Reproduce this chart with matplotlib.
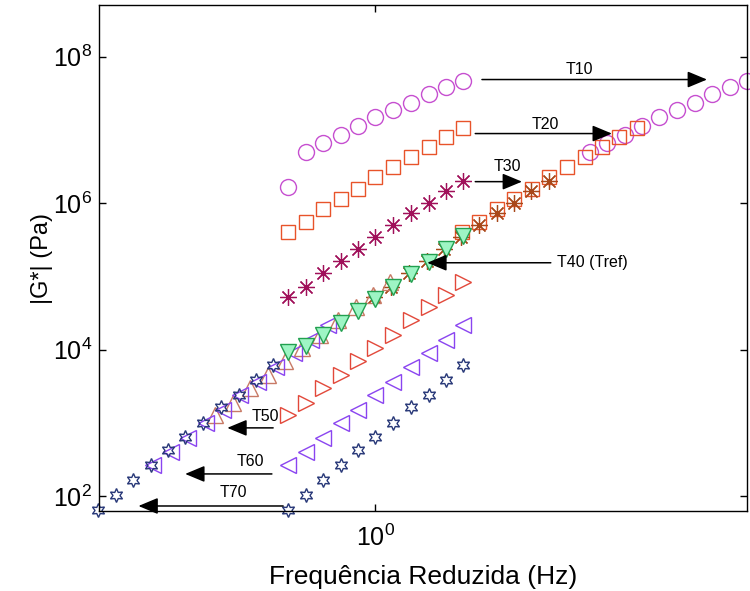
import numpy as np
import matplotlib
matplotlib.use("Agg")
import matplotlib.pyplot as plt
from matplotlib.ticker import FixedLocator, LogFormatterMathtext, NullLocator

plt.rcParams['font.family'] = ['Liberation Sans', 'DejaVu Sans']
plt.rcParams['mathtext.fontset'] = 'custom'
plt.rcParams['mathtext.rm'] = 'Liberation Sans'

# measured frequencies (Hz), same for every temperature
freq = [0.606, 0.670, 0.741, 0.820, 0.907, 1.00, 1.11, 1.23, 1.36, 1.50, 1.66]

# |G*| (Pa) for each test temperature
g_t10 = [1.68e6, 5.05e6, 6.70e6, 8.61e6, 1.11e7, 1.52e7, 1.89e7, 2.36e7, 3.13e7, 3.90e7, 4.57e7]
g_t20 = [4.06e5, 5.57e5, 8.37e5, 1.15e6, 1.57e6, 2.30e6, 3.15e6, 4.31e6, 5.90e6, 8.09e6, 1.07e7]
g_t30 = [5.25e4, 7.19e4, 1.12e5, 1.63e5, 2.38e5, 3.48e5, 5.07e5, 7.40e5, 1.01e6, 1.48e6, 2.02e6]
g_t40 = [9.31e3, 1.13e4, 1.59e4, 2.32e4, 3.38e4, 4.93e4, 7.19e4, 1.08e5, 1.58e5, 2.38e5, 3.58e5]
g_t50 = [1.28e3, 1.87e3, 2.99e3, 4.51e3, 7.01e3, 1.06e4, 1.59e4, 2.55e4, 3.84e4, 5.60e4, 8.43e4]
g_t60 = [265, 400, 621, 995, 1.50e3, 2.40e3, 3.61e3, 5.81e3, 9.02e3, 1.36e4, 2.18e4]
g_t70 = [64.4, 103, 166, 265, 426, 641, 995, 1.65e3, 2.40e3, 3.85e3, 6.18e3]

# shift factors aT (Tref = 40)
a_t = [5.13, 2.72, 1.64, 1.0, 0.657, 0.460, 0.335]
labels = ['T10', 'T20', 'T30', 'T40 (Tref)', 'T50', 'T60', 'T70']

f = np.array(freq)

fig = plt.figure(figsize=(7.5, 5.91), dpi=100)
ax = fig.add_axes([0.132, 0.1354, 0.864, 0.856])
ax.set_xscale('log')
ax.set_yscale('log')

star = (6, 1, 0)
ast = (8, 2, 0)

# original curves
ax.plot(f, g_t10, 'o', ms=11.5, mfc='none', mec='#c64fd0', mew=1.0, clip_on=False)
ax.plot(f, g_t20, 's', ms=10, mfc='none', mec='#e8532a', mew=1.0, clip_on=False)
ax.plot(f, g_t30, marker=ast, ls='none', ms=12, mec='#a0105a', mew=0.9, clip_on=False)
ax.plot(f, g_t50, '>', ms=11, mfc='none', mec='#e2483a', mew=1.0, clip_on=False)
ax.plot(f, g_t60, '<', ms=11, mfc='none', mec='#8a44f0', mew=1.0, clip_on=False)
ax.plot(f, g_t70, marker=star, ls='none', ms=10, mfc='none', mec='#283878', mew=1.0, clip_on=False)

# shifted curves (master curve); first T10 point left out of the shifted set
ax.plot(f[1:] * a_t[0], g_t10[1:], 'o', ms=11.5, mfc='none', mec='#c64fd0', mew=1.0, clip_on=False)
ax.plot(f * a_t[1], g_t20, 's', ms=10, mfc='none', mec='#e8532a', mew=1.0, clip_on=False)
ax.plot(f * a_t[2], g_t30, marker=ast, ls='none', ms=12, mec='#a8481a', mew=0.9, clip_on=False)
ax.plot(f * a_t[4], g_t50, '^', ms=11, mfc='none', mec='#c87a66', mew=1.0, clip_on=False)
ax.plot(f * a_t[5], g_t60, '<', ms=11, mfc='none', mec='#8a44f0', mew=1.0, clip_on=False)
ax.plot(f * a_t[6], g_t70, marker=star, ls='none', ms=10, mfc='none', mec='#283878', mew=1.0, clip_on=False)
# reference temperature
ax.plot(f * a_t[3], g_t40, 'v', ms=11, mfc='#9ef5c4', mec='#22a050', mew=1.0, clip_on=False)

# arrows showing the shift direction
arr = dict(arrowstyle='-|>,head_length=0.6,head_width=0.25', color='k', lw=1.1,
           mutation_scale=20, shrinkA=0, shrinkB=0)
ax.annotate('', xy=(6.76, 4.86e7), xytext=(1.85, 4.86e7), arrowprops=arr)
ax.annotate('', xy=(3.91, 8.89e6), xytext=(1.78, 8.89e6), arrowprops=arr)
ax.annotate('', xy=(2.33, 1.96e6), xytext=(1.78, 1.96e6), arrowprops=arr)
ax.annotate('', xy=(1.35, 1.53e5), xytext=(2.75, 1.53e5), arrowprops=arr)
ax.annotate('', xy=(0.427, 851), xytext=(0.556, 851), arrowprops=arr)
ax.annotate('', xy=(0.335, 200), xytext=(0.552, 200), arrowprops=arr)
ax.annotate('', xy=(0.256, 73), xytext=(0.589, 73), arrowprops=arr)

fs = 11.5
ax.text(3.24, 6.67e7, labels[0], fontsize=fs, ha='center', va='center')
ax.text(2.66, 1.18e7, labels[1], fontsize=fs, ha='center', va='center')
ax.text(2.14, 3.15e6, labels[2], fontsize=fs, ha='center', va='center')
ax.text(2.85, 1.53e5, labels[3], fontsize=fs, ha='left', va='center')
ax.text(0.531, 1.20e3, labels[4], fontsize=fs, ha='center', va='center')
ax.text(0.487, 292, labels[5], fontsize=fs, ha='center', va='center')
ax.text(0.442, 110, labels[6], fontsize=fs, ha='center', va='center')

# axes limits and ticks
ax.set_xlim(0.204, 8.51)
ax.set_ylim(62.4, 5.05e8)
ax.xaxis.set_major_locator(FixedLocator([1.0]))
ax.yaxis.set_major_locator(FixedLocator([1e2, 1e4, 1e6, 1e8]))
ax.xaxis.set_minor_locator(NullLocator())
ax.yaxis.set_minor_locator(NullLocator())
ax.xaxis.set_major_formatter(LogFormatterMathtext())
ax.yaxis.set_major_formatter(LogFormatterMathtext())
ax.tick_params(direction='in', length=5, width=1, top=True, right=True,
               labelsize=18)
ax.tick_params(axis='y', pad=5)
ax.tick_params(axis='x', pad=10)
for s in ax.spines.values():
    s.set_linewidth(1.0)

ax.set_xlabel('Frequência Reduzida (Hz)', fontsize=19, labelpad=10)
ax.set_ylabel('|G*| (Pa)', fontsize=17, labelpad=0)

fig.savefig('out.png', dpi=100)
